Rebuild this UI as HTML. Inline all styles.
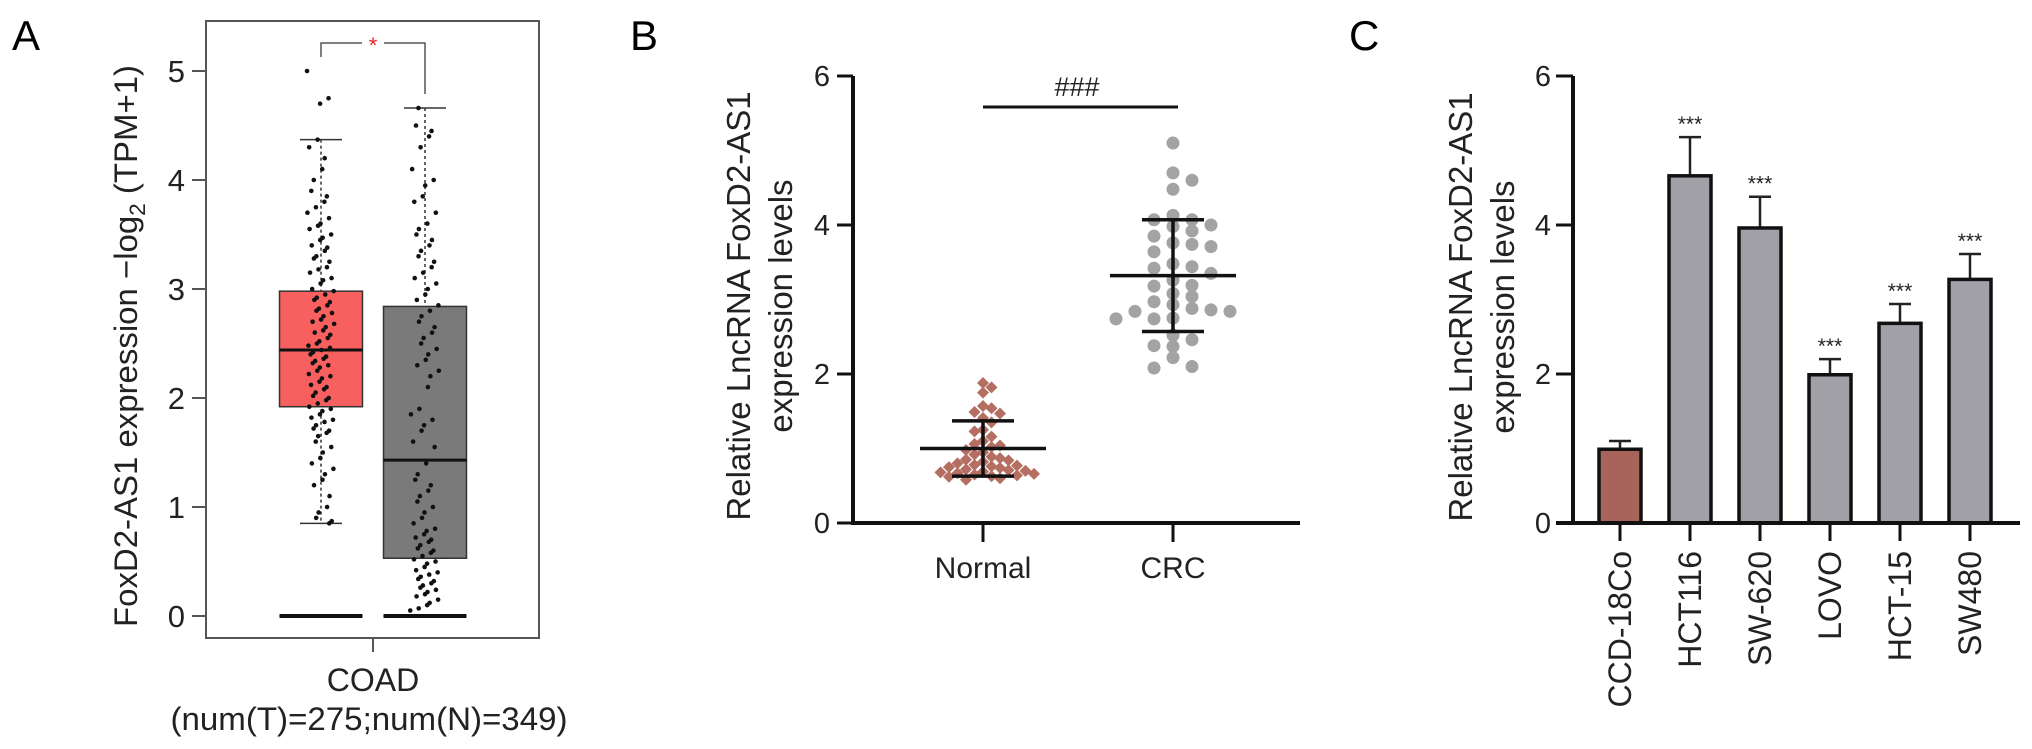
<!DOCTYPE html>
<html>
<head>
<meta charset="utf-8">
<style>
  html,body{margin:0;padding:0;background:#fff;}
  svg{display:block;font-family:"Liberation Sans",Arial,sans-serif;}
</style>
</head>
<body>
<svg id="fig" width="2032" height="749" viewBox="0 0 2032 749" xmlns="http://www.w3.org/2000/svg">
  <text x="12" y="50" font-size="42">A</text>
  <text x="630" y="50" font-size="42">B</text>
  <text x="1349" y="50" font-size="42">C</text>
  <g id="panelA"></g>
  <g id="panelB"></g>
  <g id="panelC"></g>
</svg>
<script>
// ---------- Panel A data ----------
const aTicks = [0,1,2,3,4,5];
const aGroups = ["tumor","normal"];
const aQ1 = [1.92, 0.53];
const aMedian = [2.44, 1.43];
const aQ3 = [2.98, 2.84];
const aWhiskerLow = [0.85, 0.53];
const aWhiskerHigh = [4.37, 4.66];
const aZeroLine = [0, 0];
const tumorVals = [5.0,4.75,4.7,4.37,4.3,4.2,4.1,4.0,3.9,3.85,3.8,3.75,3.7,3.65,3.6,3.58,3.55,3.5,3.47,3.45,3.4,3.38,3.35,3.3,3.28,3.25,3.2,3.18,3.15,3.1,3.08,3.05,3.0,2.98,2.95,2.92,2.9,2.88,2.85,2.82,2.8,2.78,2.75,2.72,2.7,2.68,2.65,2.62,2.6,2.58,2.55,2.52,2.5,2.48,2.46,2.44,2.42,2.4,2.38,2.36,2.34,2.32,2.3,2.28,2.25,2.22,2.2,2.18,2.15,2.12,2.1,2.08,2.05,2.02,2.0,1.98,1.95,1.92,1.9,1.88,1.85,1.82,1.8,1.78,1.75,1.72,1.7,1.68,1.65,1.6,1.55,1.5,1.45,1.4,1.35,1.3,1.25,1.2,1.1,1.0,0.95,0.9,0.87,0.85];
const normalVals = [4.66,4.5,4.45,4.4,4.3,4.1,4.0,3.95,3.85,3.8,3.7,3.6,3.55,3.5,3.45,3.4,3.35,3.3,3.25,3.2,3.15,3.1,3.05,3.0,2.95,2.9,2.85,2.8,2.75,2.7,2.65,2.6,2.55,2.5,2.45,2.4,2.35,2.3,2.25,2.2,2.1,1.9,1.85,1.8,1.75,1.7,1.6,1.55,1.4,1.3,1.25,1.2,1.15,1.1,1.05,1.0,0.95,0.9,0.85,0.8,0.78,0.75,0.72,0.7,0.68,0.65,0.62,0.6,0.58,0.55,0.52,0.5,0.48,0.45,0.42,0.4,0.38,0.36,0.34,0.32,0.3,0.28,0.26,0.24,0.22,0.2,0.18,0.15,0.12,0.1,0.07,0.05];

// ---------- Panel B data ----------
const bTicks = [0,2,4,6];
const bCategories = ["Normal","CRC"];
const normalPts = [1.88,1.82,1.75,1.57,1.54,1.49,1.47,1.41,1.35,1.25,1.23,1.16,1.1,1.06,1.04,1.02,0.98,0.95,0.92,0.89,0.87,0.85,0.84,0.82,0.8,0.78,0.77,0.76,0.75,0.74,0.72,0.71,0.7,0.69,0.68,0.67,0.66,0.65,0.64,0.63,0.62,0.6,0.58];
const crcPts = [5.1,4.7,4.6,4.48,4.13,4.07,4.07,4.0,3.98,3.92,3.85,3.76,3.74,3.71,3.64,3.48,3.44,3.42,3.35,3.26,3.19,3.18,3.08,3.04,2.97,2.93,2.88,2.86,2.84,2.84,2.75,2.74,2.74,2.52,2.46,2.38,2.37,2.22,2.1,2.08];
const bMeans = [1.0, 3.32];
const bSD = [0.37, 0.75];

// ---------- Panel C data ----------
const cTicks = [0,2,4,6];
const cCategories = ["CCD-18Co","HCT116","SW-620","LOVO","HCT-15","SW480"];
const cValues = [0.99, 4.66, 3.96, 1.99, 2.68, 3.27];
const cErrors = [0.11, 0.52, 0.42, 0.21, 0.26, 0.34];
const cSig = ["", "***", "***", "***", "***", "***"];

const NS = "http://www.w3.org/2000/svg";
function mk(parent, tag, attrs, text){
  const e = document.createElementNS(NS, tag);
  for (const k in attrs) e.setAttribute(k, attrs[k]);
  if (text !== undefined) e.textContent = text;
  parent.appendChild(e);
  return e;
}

// ================= PANEL A =================
(function(){
  const g = document.getElementById('panelA');
  const y = v => 616 - v * 109;
  const centers = [321, 425];
  const halfW = 41.5;
  const fills = ["#f86060", "#7a7a7a"];
  const frame = mk(g,'rect',{x:206,y:21,width:333,height:617,fill:'none',stroke:'#555','stroke-width':2});
  
  
  aTicks.forEach(t=>{
    const tk = mk(g,'line',{x1:192,x2:206,y1:y(t),y2:y(t),stroke:'#555','stroke-width':2});
    
    
    const lb = mk(g,'text',{x:185,y:y(t)+11,'text-anchor':'end','font-size':31,fill:'#222'},String(t));
    
    
  });
  const title = mk(g,'text',{transform:'translate(137,346) rotate(-90)','text-anchor':'middle','font-size':32,fill:'#222',textLength:562,lengthAdjust:'spacingAndGlyphs'});
  
  
  title.appendChild(document.createTextNode('FoxD2-AS1 expression \u2212log'));
  mk(title,'tspan',{'font-size':22,dy:8},'2');
  mk(title,'tspan',{dy:-8},' (TPM+1)');

  aGroups.forEach((name,i)=>{
    const cx = centers[i];
    const wl = mk(g,'line',{x1:cx,x2:cx,y1:y(aWhiskerHigh[i]),y2:y(aWhiskerLow[i]),stroke:'#333','stroke-width':1.5,'stroke-dasharray':'3,3'});
    
    
    const box = mk(g,'rect',{x:cx-halfW,y:y(aQ3[i]),width:halfW*2,height:y(aQ1[i])-y(aQ3[i]),fill:fills[i],stroke:'#333','stroke-width':1.5});
    
    
    [aWhiskerHigh[i], aWhiskerLow[i]].forEach(v=>{
      const c = mk(g,'line',{x1:cx-21,x2:cx+21,y1:y(v),y2:y(v),stroke:'#333','stroke-width':1.5});
      
      
    });
  });
  // points (horizontal jitter is layout only)
  [tumorVals, normalVals].forEach((vals,gi)=>{
    const cx = centers[gi];
    vals.forEach((v,i)=>{
      const f = ((i*0.7548777 + gi*0.31) % 1) ;
      const h = ((i*0.5698403 + 0.17) % 1);
      const jit = (f - 0.5) * 24 + (h - 0.5) * 6;
      const p = mk(g,'circle',{cx:cx+jit,cy:y(v),r:2.3,fill:'#111'});
      
      
    });
  });
  aGroups.forEach((name,i)=>{
    const cx = centers[i];
    const med = mk(g,'line',{x1:cx-halfW,x2:cx+halfW,y1:y(aMedian[i]),y2:y(aMedian[i]),stroke:'#111','stroke-width':3});
    
    
    const z = mk(g,'line',{x1:cx-halfW,x2:cx+halfW,y1:y(aZeroLine[i]),y2:y(aZeroLine[i]),stroke:'#111','stroke-width':4});
    
    
  });
  const br = mk(g,'path',{d:`M${centers[0]},57 V43 H362 M384,43 H${centers[1]} V94`,fill:'none',stroke:'#555','stroke-width':1.5});
  
  
  const st = mk(g,'text',{x:373,y:53,'text-anchor':'middle','font-size':22,fill:'#f02020'},'*');
  
  
  const xt = mk(g,'line',{x1:373,x2:373,y1:638,y2:652,stroke:'#555','stroke-width':2});
  
  
  const x1 = mk(g,'text',{x:373,y:691,'text-anchor':'middle','font-size':32,fill:'#222'},'COAD');
  
  
  const x2 = mk(g,'text',{x:369,y:730,'text-anchor':'middle','font-size':32,fill:'#222',textLength:397,lengthAdjust:'spacingAndGlyphs'},'(num(T)=275;num(N)=349)');
  
  
})();

// ================= PANEL B =================
(function(){
  const g = document.getElementById('panelB');
  const y = v => 523 - v * 74.5;
  const centers = [983, 1173];
  const ax = mk(g,'path',{d:'M853,76 V523 H1300',fill:'none',stroke:'#111','stroke-width':4});
  
  
  bTicks.forEach(t=>{
    const tk = mk(g,'line',{x1:837,x2:853,y1:y(t),y2:y(t),stroke:'#111','stroke-width':3});
    
    
    const lb = mk(g,'text',{x:830,y:y(t)+10,'text-anchor':'end','font-size':29,fill:'#222'},String(t));
    
    
  });
  const t1 = mk(g,'text',{transform:'translate(750,306) rotate(-90)','text-anchor':'middle','font-size':33,fill:'#222'},'Relative LncRNA FoxD2-AS1');
  
  
  const t2 = mk(g,'text',{transform:'translate(792,306) rotate(-90)','text-anchor':'middle','font-size':33,fill:'#222'},'expression levels');
  
  
  bCategories.forEach((c,i)=>{
    const tk = mk(g,'line',{x1:centers[i],x2:centers[i],y1:523,y2:542,stroke:'#111','stroke-width':3});
    
    
    const lb = mk(g,'text',{x:centers[i],y:578,'text-anchor':'middle','font-size':30,fill:'#222'},c);
    
    
  });
  function swarm(vals, step, minDy){
    const sorted = vals.map((v,i)=>({v,i})).sort((a,b)=>b.v-a.v);
    const placed = [];
    const order = [0,1,-1,2,-2,3,-3,4,-4,5,-5,6,-6];
    sorted.forEach(o=>{
      for (const col of order){
        const ok = placed.every(p => p.col!==col || Math.abs(y(p.v)-y(o.v)) >= minDy);
        if (ok){ placed.push({v:o.v,col}); break; }
      }
    });
    return placed.map(p=>({v:p.v, dx:p.col*step}));
  }
  swarm(normalPts, 8.5, 9).forEach(p=>{
    const cx = centers[0]+p.dx, cy = y(p.v), s = 6;
    const d = mk(g,'path',{d:`M${cx},${cy-s} L${cx+s},${cy} L${cx},${cy+s} L${cx-s},${cy} Z`,fill:'#b56f62'});
    
    
  });
  swarm(crcPts, 19, 11).forEach(p=>{
    const c = mk(g,'circle',{cx:centers[1]+p.dx,cy:y(p.v),r:6.5,fill:'#a3a3a3'});
    
    
  });
  bCategories.forEach((c,i)=>{
    const cx = centers[i];
    const mw = 63, cw = 31;
    const m = mk(g,'line',{x1:cx-mw,x2:cx+mw,y1:y(bMeans[i]),y2:y(bMeans[i]),stroke:'#111','stroke-width':3.5});
    
    
    const v = mk(g,'line',{x1:cx,x2:cx,y1:y(bMeans[i]+bSD[i]),y2:y(bMeans[i]-bSD[i]),stroke:'#111','stroke-width':3.5});
    
    
    [bMeans[i]+bSD[i], bMeans[i]-bSD[i]].forEach(val=>{
      const cap = mk(g,'line',{x1:cx-cw,x2:cx+cw,y1:y(val),y2:y(val),stroke:'#111','stroke-width':3.5});
      
      
    });
  });
  const sl = mk(g,'line',{x1:983,x2:1178,y1:107,y2:107,stroke:'#111','stroke-width':3});
  
  
  const sm = mk(g,'text',{x:1077,y:96,'text-anchor':'middle','font-size':27,fill:'#222'},'###');
  
  
})();

// ================= PANEL C =================
(function(){
  const g = document.getElementById('panelC');
  const y = v => 523 - v * 74.5;
  const x0 = 1620, step = 70, bw = 42;
  const xc = i => x0 + i*step;
  const t1 = mk(g,'text',{transform:'translate(1472,307) rotate(-90)','text-anchor':'middle','font-size':33,fill:'#222'},'Relative LncRNA FoxD2-AS1');
  
  
  const t2 = mk(g,'text',{transform:'translate(1514,307) rotate(-90)','text-anchor':'middle','font-size':33,fill:'#222'},'expression levels');
  
  
  cTicks.forEach(t=>{
    const tk = mk(g,'line',{x1:1556,x2:1573,y1:y(t),y2:y(t),stroke:'#111','stroke-width':3});
    
    
    const lb = mk(g,'text',{x:1551,y:y(t)+10,'text-anchor':'end','font-size':29,fill:'#222'},String(t));
    
    
  });
  cCategories.forEach((c,i)=>{
    const cx = xc(i);
    const top = y(cValues[i]+cErrors[i]);
    const el = mk(g,'line',{x1:cx,x2:cx,y1:top,y2:y(cValues[i]),stroke:'#222','stroke-width':2.5});
    
    
    const cap = mk(g,'line',{x1:cx-11,x2:cx+11,y1:top,y2:top,stroke:'#222','stroke-width':2.5});
    
    
    const bar = mk(g,'rect',{x:cx-bw/2,y:y(cValues[i]),width:bw,height:y(0)-y(cValues[i]),fill:i===0?'#a8645a':'#a0a0a6',stroke:'#111','stroke-width':3.5});
    
    
    if (cSig[i]){
      const s = mk(g,'text',{x:cx,y:top-6,'text-anchor':'middle','font-size':21,fill:'#222'},cSig[i]);
      
      
    }
    const tk = mk(g,'line',{x1:cx,x2:cx,y1:523,y2:541,stroke:'#111','stroke-width':3});
    
    
    const lb = mk(g,'text',{transform:`translate(${cx+11},551) rotate(-90)`,'text-anchor':'end','font-size':32,fill:'#222'},c);
    
    
  });
  const ax = mk(g,'path',{d:'M1573,76 V523 M1556,523 H2020',fill:'none',stroke:'#111','stroke-width':4});
  
  
})();
</script>
</body>
</html>
